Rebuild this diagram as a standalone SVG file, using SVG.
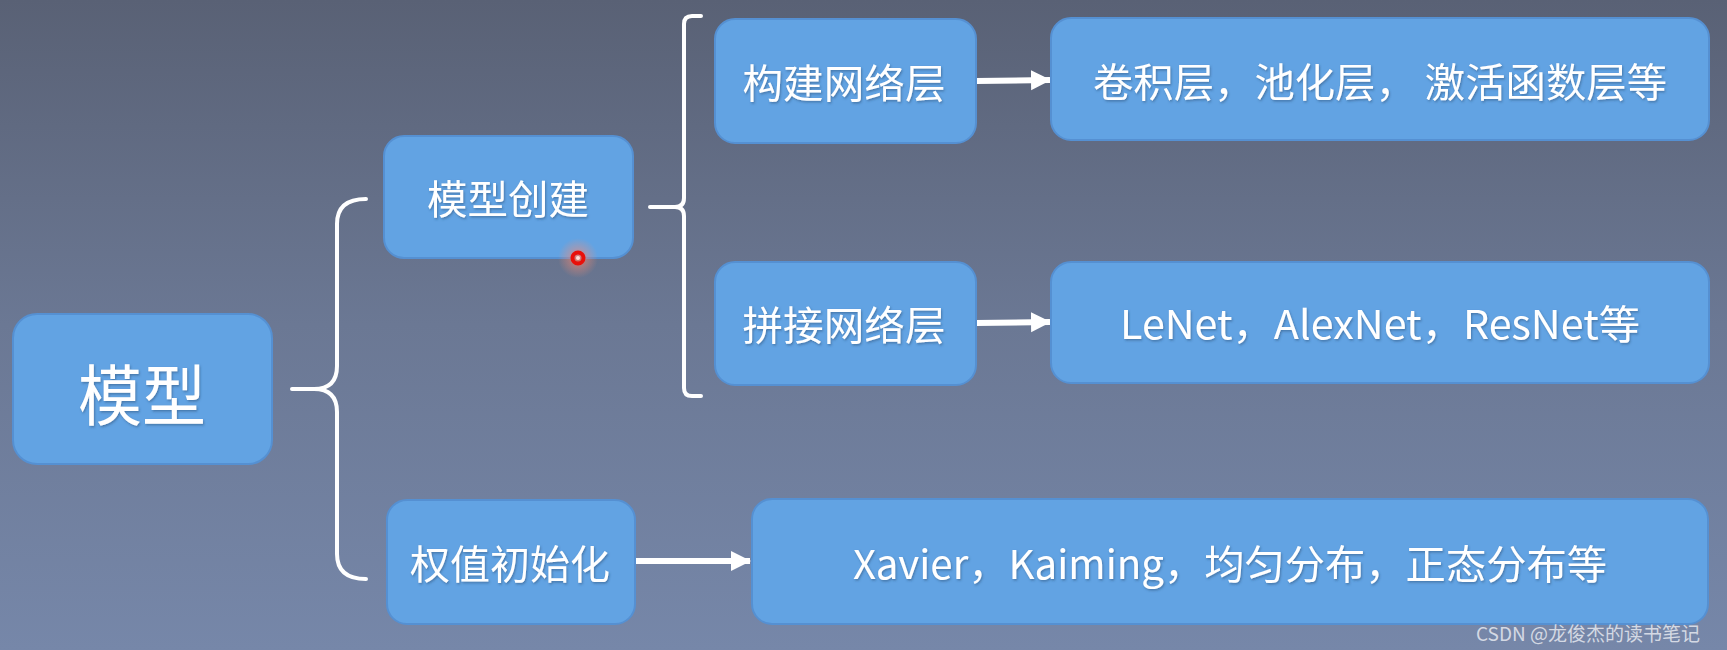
<svg xmlns="http://www.w3.org/2000/svg" width="1727" height="650" viewBox="0 0 1727 650">
  <defs>
    <linearGradient id="bg" x1="0" y1="0" x2="0" y2="1">
      <stop offset="0" stop-color="#596175"/>
      <stop offset="0.5" stop-color="#6b7894"/>
      <stop offset="1" stop-color="#7687a9"/>
    </linearGradient>
    <radialGradient id="glow" cx="0.5" cy="0.5" r="0.5">
      <stop offset="0" stop-color="#ff6a50" stop-opacity="0.85"/>
      <stop offset="0.5" stop-color="#ff8a70" stop-opacity="0.35"/>
      <stop offset="1" stop-color="#ff9070" stop-opacity="0"/>
    </radialGradient>
    <filter id="tshadow" x="-10%" y="-30%" width="120%" height="160%">
      <feDropShadow dx="1" dy="1.5" stdDeviation="0.8" flood-color="#2a4a70" flood-opacity="0.5"/>
    </filter>
    <marker id="arrow" markerUnits="userSpaceOnUse" markerWidth="20" markerHeight="22" refX="19" refY="11" orient="auto">
      <polygon points="0,1 20,11 0,21" fill="#ffffff"/>
    </marker>
    <style>
      .box { fill: #62a3e3; stroke: #5590d2; stroke-width: 2; }
      .lbl { fill: #ffffff; font-family: "Noto Sans CJK SC", "Noto Sans", sans-serif; text-anchor: middle; dominant-baseline: central; filter: url(#tshadow); }
      .conn { fill: none; stroke: #ffffff; stroke-width: 4; stroke-linecap: round; }
      .arr { fill: none; stroke: #ffffff; stroke-width: 6; }
    </style>
  </defs>

  <rect x="0" y="0" width="1727" height="650" fill="url(#bg)"/>

  <g id="connectors">
    <path class="conn" d="M292,389 H314 Q337,389 337,366 V224 Q337,199 366,199"/>
    <path class="conn" d="M314,389 Q337,389 337,412 V554 Q337,579 366,579"/>
    <path class="conn" d="M650,207 H675 Q684,207 684,198 V24 Q684,16 692,16 H701"/>
    <path class="conn" d="M675,207 Q684,207 684,216 V388 Q684,396 692,396 H701"/>
    <line class="arr" x1="976" y1="81" x2="1050" y2="80" marker-end="url(#arrow)"/>
    <line class="arr" x1="976" y1="323" x2="1050" y2="322" marker-end="url(#arrow)"/>
    <line class="arr" x1="635" y1="561" x2="750" y2="561" marker-end="url(#arrow)"/>
  </g>

  <g id="n_model">
    <rect class="box" x="13" y="314" width="259" height="150" rx="24"/>
    <text class="lbl" x="142" y="391" font-size="66" textLength="128" lengthAdjust="spacingAndGlyphs">模型</text>
  </g>
  <g id="n_create">
    <rect class="box" x="384" y="136" width="249" height="122" rx="20"/>
    <text class="lbl" x="508" y="197" font-size="40" textLength="162" lengthAdjust="spacingAndGlyphs">模型创建</text>
  </g>
  <g id="n_init">
    <rect class="box" x="387" y="500" width="248" height="124" rx="20"/>
    <text class="lbl" x="510" y="562" font-size="40" textLength="200" lengthAdjust="spacingAndGlyphs">权值初始化</text>
  </g>
  <g id="n_build">
    <rect class="box" x="715" y="19" width="261" height="124" rx="20"/>
    <text class="lbl" x="844" y="81" font-size="40" textLength="203" lengthAdjust="spacingAndGlyphs">构建网络层</text>
  </g>
  <g id="n_concat">
    <rect class="box" x="715" y="262" width="261" height="123" rx="20"/>
    <text class="lbl" x="844" y="323" font-size="40" textLength="203" lengthAdjust="spacingAndGlyphs">拼接网络层</text>
  </g>
  <g id="n_conv">
    <rect class="box" x="1051" y="18" width="658" height="122" rx="20"/>
    <text class="lbl" x="1380" y="80" font-size="40" textLength="574" lengthAdjust="spacingAndGlyphs">卷积层，池化层， 激活函数层等</text>
  </g>
  <g id="n_lenet">
    <rect class="box" x="1051" y="262" width="658" height="121" rx="20"/>
    <text class="lbl" x="1380" y="322" font-size="40" textLength="520" lengthAdjust="spacingAndGlyphs">LeNet，AlexNet，ResNet等</text>
  </g>
  <g id="n_xavier">
    <rect class="box" x="752" y="499" width="956" height="125" rx="20"/>
    <text class="lbl" x="1230" y="562" font-size="40" textLength="754" lengthAdjust="spacingAndGlyphs">Xavier，Kaiming，均匀分布，正态分布等</text>
  </g>

  <g id="cursor">
    <circle cx="578" cy="258" r="20" fill="url(#glow)"/>
    <circle cx="578" cy="258" r="5.5" fill="none" stroke="#e8100a" stroke-width="4"/>
    <circle cx="578" cy="258" r="2" fill="#ffe0d8"/>
  </g>

  <text x="1476" y="632" font-family="Noto Sans CJK SC, Noto Sans, sans-serif" font-size="19" fill="#e6e9f0" fill-opacity="0.85" dominant-baseline="central">CSDN @龙俊杰的读书笔记</text>
</svg>
